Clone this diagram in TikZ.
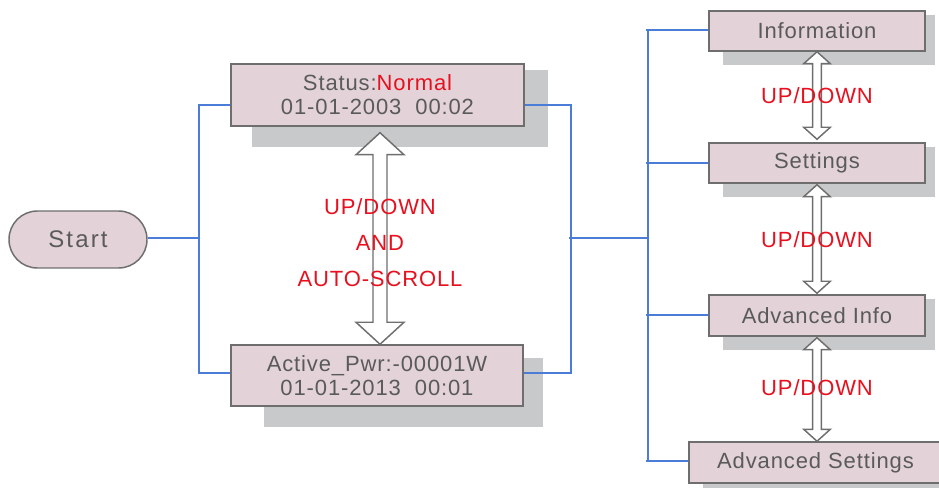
\documentclass[tikz,border=0pt]{standalone}
\usepackage{fontspec}
\setmainfont{Liberation Sans}[LetterSpace=4]
\usetikzlibrary{calc,backgrounds}
\definecolor{boxc}{HTML}{E3D3D8}
\definecolor{bordc}{HTML}{6E6E6E}
\definecolor{shadc}{HTML}{C8C9CB}
\definecolor{txtc}{HTML}{5A5A5A}
\definecolor{busc}{HTML}{4A7CD8}
\definecolor{redc}{HTML}{E8101E}
\newcommand\dblarr[5]{%
  \draw[arrsty] let \p1=#1, \p2=#2 in
    (\x1,\y1) -- (\x1+#4,\y1-#5) -- (\x1+#3,\y1-#5) -- (\x1+#3,\y2+#5) -- (\x1+#4,\y2+#5)
    -- (\x1,\y2) -- (\x1-#4,\y2+#5) -- (\x1-#3,\y2+#5) -- (\x1-#3,\y1-#5) -- (\x1-#4,\y1-#5) -- cycle;}
\begin{document}
\begin{tikzpicture}[x=0.75pt,y=-0.75pt,
  box/.style={draw=bordc, fill=boxc, line width=1.1pt, inner sep=0pt, align=center,
    text=txtc, font=\fontsize{16.5}{18}\selectfont},
  rbox/.style={box, minimum width=162pt, minimum height=30pt},
  shad/.style={fill=shadc},
  bus/.style={draw=busc, line width=1.3pt},
  arrsty/.style={draw=bordc, fill=white, line width=1.1pt, line join=miter},
  redlbl/.style={text=redc, inner sep=0pt, font=\fontsize{16.5}{18}\selectfont}]
\useasboundingbox (0,0) rectangle (939,488);
\clip (0,0) rectangle (939,488);

% boxes
\node[box, minimum width=219.75pt, minimum height=46.5pt] (status) at (377.5,95)
  {Status:\textcolor{redc}{Normal}\\01-01-2003\ \ 00:02};
\node[box, minimum width=219pt, minimum height=45.75pt] (active) at (377,375.5)
  {Active\_Pwr:-00001W\\01-01-2013\ \ 00:01};
\node[rbox] (info) at (817,31) {Information};
\node[rbox] (settings) at (817,163) {Settings};
\node[rbox, minimum height=30.75pt] (advinfo) at (817,315.5) {Advanced Info};
\node[box, minimum width=189.75pt, minimum height=30.75pt] (advset) at (815.5,462.5) {Advanced Settings};
\node[box, minimum width=103.5pt, minimum height=42.75pt, rounded corners=21.3pt,
  font=\fontsize{18}{22}\selectfont\addfontfeatures{LetterSpace=9}] (start) at (78,239.5) {Start};

% shadows behind the boxes
\begin{scope}[on background layer]
\fill[shad] ($(status.north west)+(22,7)$) rectangle ($(status.south east)+(23,20)$);
\fill[shad] ($(active.north west)+(34,14)$) rectangle ($(active.south east)+(19,20)$);
\foreach \n in {info,settings,advinfo,advset}
  \fill[shad] ($(\n.north west)+(15,5)$) rectangle ($(\n.south east)+(9,13)$);
\end{scope}

% connectors
\coordinate (lt) at (199,105);
\coordinate (lb) at (199,373);
\coordinate (rt) at (571,105);
\coordinate (rb) at (571,373);
\coordinate (rm) at (569,238);
\coordinate (bt) at (648,30);
\coordinate (bb) at (648,461);
\coordinate (ys) at (0,238);
\coordinate (y2) at (0,163);
\coordinate (y3) at (0,315);
\draw[bus] (ys -| start.east) -- (ys -| lt);
\draw[bus] (lt -| status.west) -- (lt) -- (lb) -- (lb -| active.west);
\draw[bus] (rt -| status.east) -- (rt) -- (rb) -- (rb -| active.east);
\draw[bus] (rm) -- (rm -| bt);
\draw[bus] (bt) -- (bb);
\draw[bus] ($(bt)+(-2,0)$) -- (bt -| info.west);
\draw[bus] ($(y2 -| bt)+(-2,0)$) -- (y2 -| settings.west);
\draw[bus] ($(y3 -| bt)+(-2,0)$) -- (y3 -| advinfo.west);
\draw[bus] ($(bb)+(-2,0)$) -- (bb -| advset.west);

% double arrows
\dblarr{($(status.south)+(2.5,6)$)}{($(active.north)+(3,0)$)}{5.25pt}{18pt}{16.5pt}
\dblarr{(info.south)}{($(settings.north)+(0,-3)$)}{3.3pt}{10pt}{9pt}
\dblarr{($(settings.south)+(0,1)$)}{($(advinfo.north)+(0,-1)$)}{3.3pt}{10pt}{9pt}
\dblarr{($(advinfo.south)+(0,1)$)}{(advset.north -| advinfo.south)}{3.3pt}{10pt}{9pt}

% labels
\node[redlbl] (l1) at (380,207) {UP/DOWN};
\node[redlbl] (l2) at (380,243) {AND};
\node[redlbl] (l3) at (380,279) {AUTO-SCROLL};
\node[redlbl] (l4) at (817,96) {UP/DOWN};
\node[redlbl] (l5) at (817,240) {UP/DOWN};
\node[redlbl] (l6) at (817,388) {UP/DOWN};
\end{tikzpicture}
\end{document}
